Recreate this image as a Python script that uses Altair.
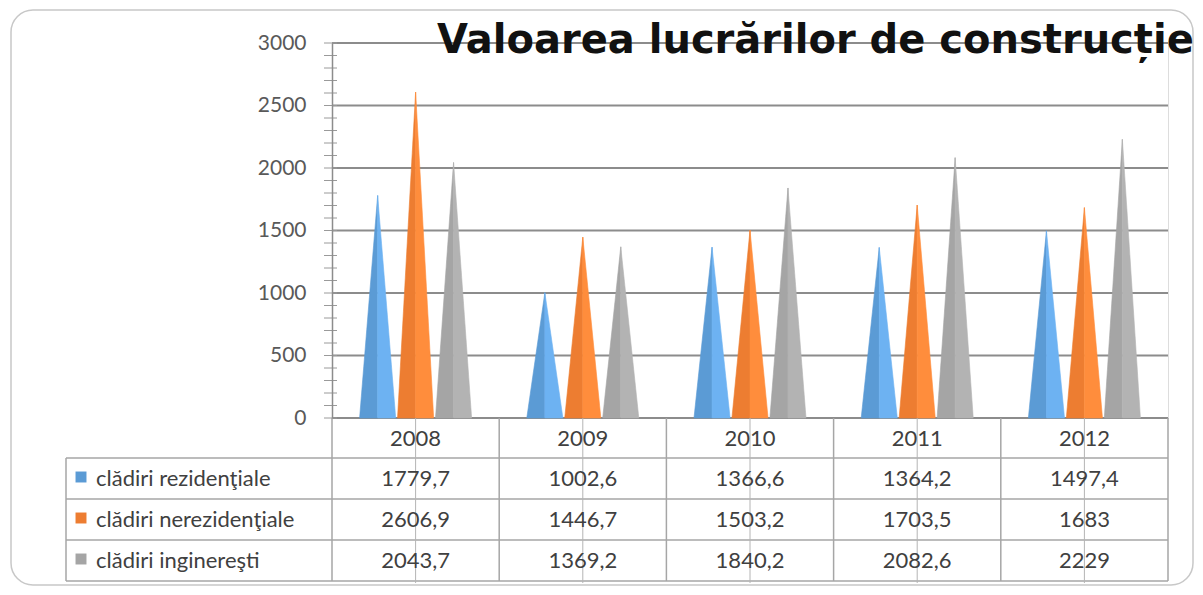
import altair as alt
import pandas as pd

# ---------------- data ----------------
years = ["2008", "2009", "2010", "2011", "2012"]
series = ["clădiri rezidenţiale", "clădiri nerezidenţiale", "clădiri inginereşti"]
rezidentiale = [1779.7, 1002.6, 1366.6, 1364.2, 1497.4]
nerezidentiale = [2606.9, 1446.7, 1503.2, 1703.5, 1683]
ingineresti = [2043.7, 1369.2, 1840.2, 2082.6, 2229]
values = [rezidentiale, nerezidentiale, ingineresti]
y_ticks = [0, 500, 1000, 1500, 2000, 2500, 3000]
title_text = "Valoarea lucrărilor de construcție"

# ---------------- style / layout ----------------
colors_dark = ["#5B9BD5", "#ED7D31", "#A5A5A5"]
colors_light = ["#6DB2F2", "#FF8D3C", "#B3B3B3"]
W, H = 836, 375
offsets = [-0.227, 0.0, 0.227]   # within a category (category width = 1)
half_w = 0.108
label_font = "Lato"
text_col = "#404040"

xscale = alt.Scale(domain=[0, 5], nice=False, zero=False)
yscale = alt.Scale(domain=[0, 3000], nice=False, zero=True)
yax = alt.Axis(title=None, values=y_ticks, format="d", grid=False, ticks=False, domain=True,
               domainColor="#8c8c8c", domainWidth=1.5, labelFont=label_font,
               labelFontSize=21, labelColor="#595959", labelPadding=26, zindex=1)
xnone = None


def fmt(v):
    if float(v).is_integer():
        return str(int(v))
    return ("%.1f" % v).replace(".", ",")


# ---------------- triangles (two halves each for shading) ----------------
rows = []
for si, (s, vals) in enumerate(zip(series, values)):
    for yi, v in enumerate(vals):
        c = yi + 0.5 + offsets[si]
        gid_l = f"{si}-{yi}-L"
        gid_r = f"{si}-{yi}-R"
        rows.append({"x": c - half_w, "v": 0, "gid": gid_l, "key": f"{si}L"})
        rows.append({"x": c, "v": v, "gid": gid_l, "key": f"{si}L"})
        rows.append({"x": c, "v": v, "gid": gid_r, "key": f"{si}R"})
        rows.append({"x": c + half_w, "v": 0, "gid": gid_r, "key": f"{si}R"})
tri_df = pd.DataFrame(rows)
keys = [f"{i}{h}" for i in range(3) for h in "LR"]
key_cols = []
for i in range(3):
    key_cols += [colors_dark[i], colors_light[i]]

triangles = alt.Chart(tri_df).mark_area(strokeWidth=0.6).encode(
    x=alt.X("x:Q", scale=xscale, axis=xnone),
    y=alt.Y("v:Q", scale=yscale, axis=yax, stack=None),
    detail="gid:N",
    color=alt.Color("key:N", scale=alt.Scale(domain=keys, range=key_cols), legend=None),
    stroke=alt.Stroke("key:N", scale=alt.Scale(domain=keys, range=key_cols), legend=None),
)

# ---------------- gridlines ----------------
grid_df = pd.DataFrame({"v": y_ticks})
grid = alt.Chart(grid_df).mark_rule(color="#8c8c8c", strokeWidth=2).encode(
    y=alt.Y("v:Q", scale=yscale, axis=yax),
    x=alt.value(0), x2=alt.value(W),
)

# ---------------- minor/major ticks crossing the y axis ----------------
tick_df = pd.DataFrame({"v": list(range(0, 3001, 100))})
ticks = alt.Chart(tick_df).mark_rule(color="#9a9a9a", strokeWidth=1).encode(
    y=alt.Y("v:Q", scale=yscale, axis=yax),
    x=alt.value(-8), x2=alt.value(5),
)

# ---------------- data table ----------------
row_lines_y = [415, 456, 497, 538]
tab_left = -266
line_col = "#a6a6a6"
hlines = []
for yy in row_lines_y:
    hlines.append(
        alt.Chart(pd.DataFrame({"a": [0]})).mark_rule(color=line_col, strokeWidth=1.5).encode(
            x=alt.value(tab_left), x2=alt.value(W), y=alt.value(yy)
        )
    )
vb_df = pd.DataFrame({"b": [0, 1, 2, 3, 4, 5]})
vlines = alt.Chart(vb_df).mark_rule(color=line_col, strokeWidth=1.5).encode(
    x=alt.X("b:Q", scale=xscale, axis=xnone), y=alt.value(H), y2=alt.value(538)
)
vc_df = pd.DataFrame({"b": [i + 0.5 for i in range(5)]})
clines = alt.Chart(vc_df).mark_rule(color="#b4b4b4", strokeWidth=1).encode(
    x=alt.X("b:Q", scale=xscale, axis=xnone), y=alt.value(H), y2=alt.value(540)
)
left_line = alt.Chart(pd.DataFrame({"a": [0]})).mark_rule(color=line_col, strokeWidth=1.5).encode(
    x=alt.value(tab_left), y=alt.value(415), y2=alt.value(538)
)

head_df = pd.DataFrame({"b": [i + 0.5 for i in range(5)], "t": years})
header = alt.Chart(head_df).mark_text(font=label_font, fontSize=22, color=text_col,
                                      baseline="middle").encode(
    x=alt.X("b:Q", scale=xscale, axis=xnone), y=alt.value(396), text="t:N"
)

row_centers = [436, 477, 518]
cell_layers = []
legend_layers = []
for si, (s, vals) in enumerate(zip(series, values)):
    cdf = pd.DataFrame({"b": [i + 0.5 for i in range(5)], "t": [fmt(v) for v in vals]})
    cell_layers.append(
        alt.Chart(cdf).mark_text(font=label_font, fontSize=22, color=text_col,
                                 baseline="middle").encode(
            x=alt.X("b:Q", scale=xscale, axis=xnone), y=alt.value(row_centers[si]), text="t:N"
        )
    )
    ldf = pd.DataFrame({"t": [s]})
    legend_layers.append(
        alt.Chart(ldf).mark_square(size=120, opacity=1, color=colors_dark[si]).encode(
            x=alt.value(-251), y=alt.value(row_centers[si] - 2)
        )
    )
    legend_layers.append(
        alt.Chart(ldf).mark_text(font=label_font, fontSize=22, color=text_col,
                                 align="left", baseline="middle").encode(
            x=alt.value(-236), y=alt.value(row_centers[si]), text="t:N"
        )
    )

# ---------------- border & title ----------------
border = alt.Chart(pd.DataFrame({"a": [0]})).mark_rect(
    fillOpacity=0, fill="white", stroke="#c8c8c8", strokeWidth=1.5, cornerRadius=22
).encode(x=alt.value(-321), x2=alt.value(861), y=alt.value(-33), y2=alt.value(542))

title = alt.Chart(pd.DataFrame({"t": [title_text]})).mark_text(
    font="DejaVu Sans", fontWeight="bold", fontSize=40, color="#111111",
    align="left", baseline="alphabetic"
).encode(x=alt.value(105), y=alt.value(10), text="t:N")

chart = alt.layer(
    border, grid, ticks, triangles, *hlines, vlines, clines, left_line, header,
    *cell_layers, *legend_layers, title
).properties(
    width=W, height=H,
    autosize=alt.AutoSizeParams(type="none"),
    padding={"left": 324, "top": 35, "right": 27, "bottom": 169},
).configure_view(stroke=None).configure(background="white")

chart.save("out.html", embed_options={"renderer": "svg", "actions": False})
